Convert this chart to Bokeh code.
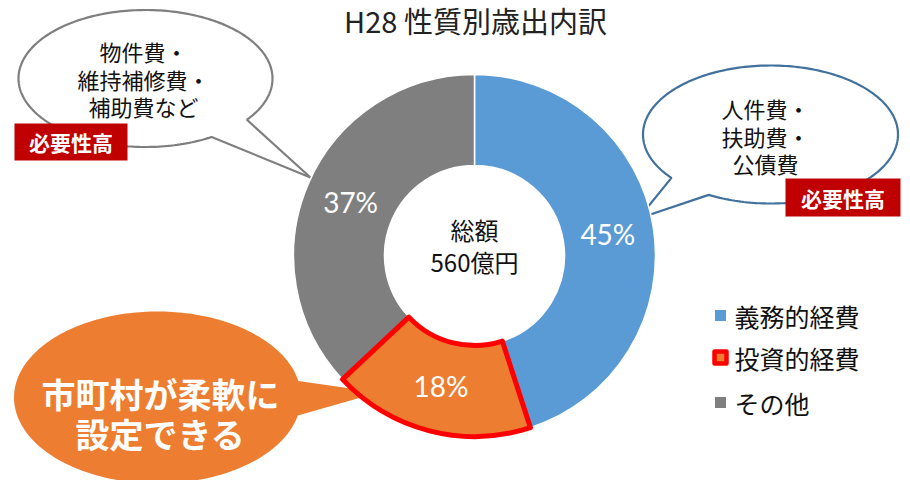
import numpy as np
from bokeh.plotting import figure
from bokeh.models import Range1d
from bokeh.core.properties import value
from bokeh.embed import file_html
from bokeh.resources import INLINE

# ---- data ----
title = "H28 性質別歳出内訳"
categories = ["義務的経費", "投資的経費", "その他"]
shares = [45, 18, 37]
colors = ["#5B9BD5", "#ED7D31", "#7F7F7F"]
center_lines = ["総額", "560億円"]
left_note = ["物件費・", "維持補修費・", "補助費など"]
right_note = ["人件費・", "扶助費・", "公債費"]
flag_text = "必要性高"
orange_note = ["市町村が柔軟に", "設定できる"]

JP = value("Noto Sans CJK JP")
H = 485
W_PX, H_PX = 905, 480


def Y(v):
    return H - v


p = figure(width=W_PX, height=H_PX, output_backend="svg", toolbar_location=None,
           x_range=Range1d(0, W_PX), y_range=Range1d(H - H_PX, H),
           x_axis_type=None, y_axis_type=None, min_border=0)
p.min_border_left = p.min_border_right = p.min_border_top = p.min_border_bottom = 0
p.outline_line_color = None
p.grid.visible = False
p.background_fill_color = "white"
p.border_fill_color = "white"


def bubble(cx, cy, w, h, tip, a_lo, a_hi):
    t = np.radians(np.linspace(a_hi, a_lo + 360, 240))
    xs = list(cx + w / 2 * np.cos(t))
    ys = list(Y(cy) + h / 2 * np.sin(t))
    xs.append(tip[0])
    ys.append(Y(tip[1]))
    return xs, ys


# ---- callout bubbles (behind donut) ----
xs, ys = bubble(145, 78, 254, 137, (310, 177), -58.6, -37)
p.patch(xs, ys, fill_color="white", line_color="#7F7F7F", line_width=2.2)
xs, ys = bubble(770, 134, 255, 138, (638, 218), 219, 241)
p.patch(xs, ys, fill_color="white", line_color="#41719C", line_width=2.2)
xs, ys = bubble(157, 397, 287, 172, (378, 392), -12, 11)
p.patch(xs, ys, fill_color="#ED7D31", line_color=None)

# ---- donut ----
cx, cy, r_in, r_out = 474, 255, 90, 181
total = sum(shares)
cum = np.cumsum([0] + shares) / total * 2 * np.pi
for i, (cat, s, c) in enumerate(zip(categories, shares, colors)):
    if i == 1:
        continue
    th1, th2 = cum[i], cum[i + 1]
    p.annular_wedge(x=cx, y=Y(cy), inner_radius=r_in, outer_radius=r_out,
                    start_angle=np.pi / 2 - th2, end_angle=np.pi / 2 - th1,
                    fill_color=c, line_color="white", line_width=1.5)
th1, th2 = cum[1], cum[2]
p.annular_wedge(x=cx, y=Y(cy), inner_radius=r_in, outer_radius=r_out,
                start_angle=np.pi / 2 - th2, end_angle=np.pi / 2 - th1,
                fill_color=colors[1], line_color="#FF0000", line_width=5,
                line_join="round")

# percent labels
r_mid = 135
for i, s in enumerate(shares):
    mid = (cum[i] + cum[i + 1]) / 2
    p.text(x=[cx + r_mid * np.sin(mid)], y=[Y(cy) + r_mid * np.cos(mid)],
           text=[f"{s}%"], text_color="white", text_font=value("Lato"),
           text_font_size="28px", text_align="center", text_baseline="middle")

# center text
p.text(x=[cx, cx], y=[Y(229), Y(261)], text=center_lines, text_font=JP,
       text_font_size="24px", text_align="center", text_baseline="middle",
       text_color="#111111")

# title
p.text(x=[475], y=[Y(19)], text=[title], text_font=JP, text_font_size="29px",
       text_align="center", text_baseline="middle", text_color="#222222")

# bubble texts
p.text(x=[143] * 3, y=[Y(50), Y(78), Y(105)], text=left_note, text_font=JP,
       text_font_size="22px", text_align="center", text_baseline="middle",
       text_color="#111111")
p.text(x=[765] * 3, y=[Y(107), Y(135), Y(162)], text=right_note, text_font=JP,
       text_font_size="22px", text_align="center", text_baseline="middle",
       text_color="#111111")

# red flags
for (x0, x1, y0, y1) in [(14, 127, 123, 160), (785, 900, 178, 216)]:
    p.quad(left=x0, right=x1, bottom=Y(y1), top=Y(y0), fill_color="#C00000",
           line_color=None)
    p.text(x=[(x0 + x1) / 2], y=[Y((y0 + y1) / 2)], text=[flag_text], text_font=JP,
           text_font_size="21px", text_font_style="bold", text_align="center",
           text_baseline="middle", text_color="white")

# orange bubble text
p.text(x=[160, 160], y=[Y(393), Y(433)], text=orange_note, text_font=JP,
       text_font_size="34px", text_font_style="bold", text_align="center",
       text_baseline="middle", text_color="white")

# legend
ly = [315, 357, 402]
for i, (cat, c) in enumerate(zip(categories, colors)):
    if i == 1:
        p.scatter(x=[720], y=[Y(ly[i])], marker="square", size=12, fill_color=c,
                  line_color="#FF0000", line_width=4.5, line_join="round")
    else:
        p.scatter(x=[720], y=[Y(ly[i])], marker="square", size=11, fill_color=c,
                  line_color=None)
    p.text(x=[734], y=[Y(ly[i])], text=[cat], text_font=JP, text_font_size="25px",
           text_align="left", text_baseline="middle", text_color="#111111")

open("out.html", "w").write(file_html(p, INLINE))
